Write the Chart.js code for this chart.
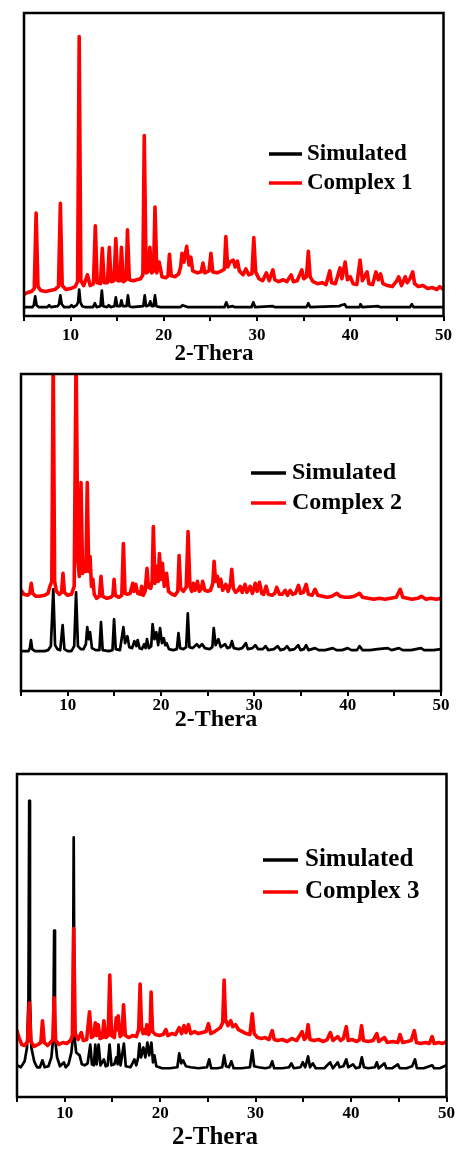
<!DOCTYPE html>
<html>
<head>
<meta charset="utf-8">
<script src="https://cdn.jsdelivr.net/npm/chart.js@4.4.1/dist/chart.umd.min.js"></script>
<style>
  html, body { margin: 0; padding: 0; background: #fff; }
  .panel { position: absolute; left: 0; }
</style>
</head>
<body>
<canvas id="xrd1" class="panel" width="458" height="370" style="top:0"></canvas>
<canvas id="xrd2" class="panel" width="458" height="376" style="top:360px"></canvas>
<canvas id="xrd3" class="panel" width="458" height="389" style="top:760px"></canvas>
<script>
// labelled ticks on the 2-theta axis (minor ticks every 5 in between)
const tickLabels = [10, 20, 30, 40, 50];
const seriesNames = ['Simulated', 'Complex 1', 'Complex 2', 'Complex 3'];

// patterns: [2theta, intensity (a.u., offset stacked)]
const sim1 = [[5.0,9],[5.9,9],[6.05,11],[6.2,20],[6.35,11],[6.6,9],[7.5,9],[7.7,11],[7.9,9],[8.6,10],[8.75,12],[8.9,21],[9.05,12],[9.3,9],[9.9,9],[10.1,11],[10.3,9],[10.65,11],[10.8,14],[10.92,27],[11.05,14],[11.25,10],[11.6,9],[12.4,9],[12.6,13],[12.8,9],[13.2,10],[13.35,26],[13.5,10],[13.9,9],[14.1,11],[14.3,9],[14.7,10],[14.85,19],[15.0,10],[15.3,10],[15.45,16],[15.6,10],[16.0,10],[16.15,21],[16.3,10],[16.6,9],[17.8,10],[17.95,21],[18.1,10],[18.4,11],[18.55,15],[18.7,10],[18.9,10],[19.05,21],[19.2,10],[19.6,9],[21.8,9],[22.0,11],[22.3,10],[22.6,9],[26.5,9],[26.7,14],[26.9,9],[27.4,10],[27.6,9],[29.4,9],[29.6,14],[29.8,9],[31.7,10],[31.9,9],[35.3,9],[35.5,13],[35.7,9],[38.8,10],[39.0,11],[39.4,12],[39.6,9],[41.0,9],[41.1,12],[41.3,9],[43.0,10],[43.2,9],[46.4,9],[46.6,12],[46.8,9],[50.0,9]];

const complex1 = [[5.0,22],[5.4,24],[5.8,25],[6.1,28],[6.3,105],[6.5,30],[6.8,26],[7.3,25],[7.8,26],[8.3,27],[8.7,30],[8.9,115],[9.1,31],[9.5,27],[10.0,28],[10.5,30],[10.75,35],[10.92,285],[11.1,36],[11.4,31],[11.8,42],[12.1,31],[12.45,33],[12.65,92],[12.85,34],[13.2,33],[13.4,69],[13.6,34],[13.95,34],[14.15,70],[14.35,35],[14.65,36],[14.85,79],[15.05,36],[15.3,36],[15.45,70],[15.65,35],[15.95,37],[16.1,88],[16.3,37],[16.7,36],[17.1,37],[17.5,38],[17.75,42],[17.9,184],[18.1,44],[18.3,45],[18.5,70],[18.7,44],[18.9,46],[19.05,111],[19.25,44],[19.5,55],[19.8,40],[20.2,39],[20.45,41],[20.6,63],[20.8,41],[21.2,40],[21.6,43],[21.8,50],[21.95,64],[22.15,55],[22.45,71],[22.7,52],[22.9,60],[23.1,46],[23.6,44],[24.0,45],[24.2,54],[24.4,44],[24.85,46],[25.05,64],[25.25,45],[25.7,44],[26.2,46],[26.5,48],[26.65,81],[26.85,50],[27.1,55],[27.45,57],[27.65,50],[27.9,56],[28.1,46],[28.5,42],[28.8,48],[29.1,42],[29.45,43],[29.65,80],[29.85,45],[30.2,38],[30.6,36],[31.0,44],[31.3,36],[31.7,47],[31.9,37],[32.3,35],[32.8,37],[33.2,35],[33.65,42],[33.9,35],[34.3,36],[34.8,47],[35.0,38],[35.3,40],[35.5,66],[35.7,40],[36.0,35],[36.5,33],[37.0,34],[37.4,32],[37.8,46],[38.0,34],[38.4,33],[38.9,49],[39.1,38],[39.45,55],[39.7,37],[40.0,40],[40.3,33],[40.7,32],[41.05,57],[41.3,36],[41.8,45],[42.0,33],[42.4,32],[42.75,45],[43.0,37],[43.25,43],[43.5,33],[44.0,31],[44.5,30],[45.0,36],[45.2,40],[45.5,31],[45.9,40],[46.1,34],[46.4,38],[46.7,45],[46.9,33],[47.3,30],[47.8,31],[48.3,28],[48.8,29],[49.3,27],[49.6,30],[50.0,27]];

const sim2 = [[5.0,40],[5.8,40],[5.95,43],[6.07,51],[6.2,42],[6.5,40],[7.5,40],[7.9,41],[8.2,45],[8.46,102],[8.65,46],[8.9,42],[9.2,41],[9.46,66],[9.65,42],[10.0,40],[10.4,40],[10.7,45],[10.9,99],[11.1,45],[11.4,42],[11.7,42],[11.95,47],[12.1,64],[12.25,52],[12.4,59],[12.6,43],[13.0,41],[13.4,41],[13.57,69],[13.75,41],[14.4,40],[14.8,41],[14.97,72],[15.15,42],[15.6,41],[15.97,64],[16.15,48],[16.4,55],[16.6,44],[16.9,43],[17.15,50],[17.35,45],[17.5,51],[17.7,43],[17.95,42],[18.2,47],[18.35,43],[18.5,52],[18.7,43],[18.95,45],[19.1,67],[19.3,52],[19.5,59],[19.7,46],[19.9,63],[20.1,48],[20.3,53],[20.45,46],[20.6,48],[20.85,42],[21.3,41],[21.7,42],[21.87,58],[22.05,43],[22.4,42],[22.7,44],[22.87,78],[23.05,44],[23.4,43],[23.83,47],[24.1,44],[24.4,47],[24.7,43],[25.2,42],[25.5,44],[25.65,63],[25.85,46],[26.15,52],[26.4,44],[26.87,47],[27.1,43],[27.4,44],[27.6,50],[27.8,43],[28.3,42],[28.7,43],[29.1,48],[29.3,42],[29.8,43],[30.1,46],[30.4,42],[30.9,42],[31.2,45],[31.5,41],[32.1,42],[32.5,45],[32.8,41],[33.2,42],[33.5,45],[33.8,41],[34.3,42],[34.7,46],[34.95,41],[35.3,42],[35.55,46],[35.8,41],[36.5,43],[36.9,41],[37.6,41],[38.4,43],[38.8,41],[39.4,41],[40.0,43],[40.4,41],[41.0,41],[41.27,45],[41.6,41],[42.4,41],[43.2,42],[44.3,43],[44.7,41],[45.5,43],[45.9,41],[46.8,41],[47.85,43],[48.2,41],[49.2,41],[50.0,42]];

const complex2 = [[5.0,101],[5.3,97],[5.7,96],[5.95,98],[6.1,108],[6.25,98],[6.6,95],[7.0,95],[7.5,96],[7.9,98],[8.1,105],[8.3,110],[8.45,340],[8.6,110],[8.8,100],[9.1,97],[9.35,99],[9.5,118],[9.65,99],[10.0,96],[10.4,97],[10.7,105],[10.9,340],[11.1,130],[11.25,115],[11.43,209],[11.6,118],[11.8,130],[11.95,120],[12.1,209],[12.25,120],[12.4,135],[12.55,105],[12.7,112],[12.85,97],[13.1,93],[13.4,95],[13.57,115],[13.75,95],[14.2,93],[14.6,94],[14.85,96],[14.97,112],[15.1,96],[15.5,94],[15.8,96],[15.97,148],[16.15,98],[16.4,97],[16.7,98],[16.97,108],[17.1,100],[17.3,107],[17.5,98],[17.8,97],[17.93,105],[18.1,96],[18.3,100],[18.5,123],[18.65,104],[18.9,103],[19.05,110],[19.18,165],[19.35,108],[19.54,125],[19.7,110],[19.83,138],[20.0,112],[20.15,128],[20.35,105],[20.6,118],[20.8,100],[21.2,97],[21.5,96],[21.8,100],[21.94,136],[22.1,103],[22.4,100],[22.7,104],[22.9,160],[23.1,105],[23.3,100],[23.47,108],[23.65,101],[23.9,110],[24.1,100],[24.3,102],[24.47,110],[24.7,101],[25.0,100],[25.3,101],[25.55,108],[25.69,130],[25.85,110],[26.05,115],[26.2,105],[26.4,112],[26.6,101],[26.94,107],[27.2,100],[27.45,108],[27.58,122],[27.75,103],[28.0,99],[28.25,101],[28.48,105],[28.7,99],[29.0,107],[29.2,99],[29.55,105],[29.8,98],[30.1,108],[30.3,100],[30.55,109],[30.8,98],[31.0,97],[31.26,105],[31.5,97],[31.9,96],[32.2,98],[32.4,104],[32.7,97],[33.0,97],[33.3,101],[33.55,96],[33.84,101],[34.1,97],[34.4,98],[34.73,106],[34.95,98],[35.25,99],[35.55,107],[35.8,97],[36.2,96],[36.5,102],[36.8,96],[37.3,95],[37.8,94],[38.3,95],[38.84,98],[39.2,95],[39.7,94],[40.2,94],[40.7,95],[41.27,98],[41.6,94],[42.2,93],[42.8,92],[43.4,93],[44.0,92],[44.6,93],[45.2,94],[45.63,102],[45.9,94],[46.4,93],[46.9,92],[47.5,93],[47.9,95],[48.4,92],[48.9,93],[49.5,92],[50.0,93]];

const sim3 = [[5.0,32],[5.4,30],[5.8,36],[6.05,50],[6.2,100],[6.28,299],[6.36,100],[6.5,50],[6.8,36],[7.1,30],[7.4,30],[7.67,37],[7.9,30],[8.3,31],[8.6,40],[8.8,60],[8.89,168],[8.98,60],[9.2,40],[9.5,31],[9.9,35],[10.1,30],[10.4,33],[10.7,45],[10.85,60],[10.94,262],[11.03,60],[11.2,45],[11.56,42],[11.8,33],[12.1,32],[12.4,34],[12.68,53],[12.85,33],[13.05,32],[13.2,53],[13.35,33],[13.55,53],[13.75,32],[14.1,38],[14.3,31],[14.5,32],[14.7,53],[14.9,32],[15.2,33],[15.4,40],[15.55,33],[15.63,53],[15.85,32],[16.2,54],[16.4,31],[16.9,30],[17.3,38],[17.5,32],[17.7,40],[17.83,54],[18.0,40],[18.24,50],[18.45,40],[18.66,55],[18.85,42],[19.08,55],[19.25,35],[19.4,42],[19.6,31],[20.2,29],[21.0,29],[21.8,30],[22.0,44],[22.2,34],[22.4,37],[22.7,31],[23.2,30],[24.0,29],[24.9,30],[25.13,38],[25.35,29],[26.0,29],[26.5,30],[26.7,42],[26.9,31],[27.2,30],[27.46,36],[27.7,29],[28.5,29],[29.4,30],[29.65,47],[29.85,31],[30.3,30],[31.0,29],[31.5,30],[31.74,36],[31.95,29],[32.8,29],[33.5,30],[33.75,34],[34.0,29],[34.7,30],[34.94,35],[35.2,30],[35.5,41],[35.7,30],[36.0,34],[36.3,29],[37.2,29],[37.8,35],[38.1,29],[38.6,35],[38.8,30],[39.2,31],[39.5,38],[39.7,30],[40.2,33],[40.5,29],[40.9,30],[41.13,40],[41.35,30],[41.8,29],[42.5,30],[42.7,35],[42.9,29],[43.5,34],[43.7,29],[44.3,29],[44.9,33],[45.1,29],[45.8,29],[46.4,31],[46.7,38],[46.9,29],[47.6,29],[48.5,32],[48.7,29],[49.3,29],[50.0,32]];

const complex3 = [[5.0,67],[5.2,60],[5.5,53],[5.8,52],[6.1,56],[6.28,95],[6.45,56],[6.8,51],[7.2,53],[7.5,55],[7.67,77],[7.85,55],[8.2,52],[8.5,55],[8.75,58],[8.89,100],[9.05,57],[9.4,53],[9.8,55],[10.2,54],[10.6,57],[10.8,62],[10.94,170],[11.1,64],[11.4,58],[11.74,65],[11.95,57],[12.3,58],[12.6,86],[12.8,60],[13.05,62],[13.2,75],[13.35,62],[13.51,73],[13.7,59],[13.95,60],[14.1,77],[14.3,60],[14.55,62],[14.72,123],[14.9,62],[15.2,60],[15.4,80],[15.5,68],[15.6,82],[15.8,61],[16.0,63],[16.16,93],[16.35,62],[16.7,60],[17.1,62],[17.5,61],[17.75,68],[17.9,114],[18.05,70],[18.2,64],[18.35,68],[18.5,64],[18.6,73],[18.8,63],[18.95,68],[19.05,106],[19.2,66],[19.5,63],[19.9,62],[20.3,63],[20.6,68],[20.8,62],[21.2,64],[21.6,63],[22.0,70],[22.25,64],[22.5,72],[22.7,65],[22.97,73],[23.2,64],[23.6,66],[24.0,64],[24.4,65],[24.8,66],[25.06,74],[25.3,64],[25.7,66],[26.0,68],[26.3,70],[26.55,75],[26.7,118],[26.85,78],[27.1,72],[27.4,77],[27.6,71],[27.9,73],[28.2,68],[28.6,66],[29.0,64],[29.4,63],[29.65,84],[29.85,64],[30.2,60],[30.6,59],[31.0,60],[31.4,58],[31.74,67],[31.95,58],[32.3,57],[32.8,58],[33.3,56],[33.8,59],[34.3,57],[34.87,66],[35.1,58],[35.3,60],[35.5,73],[35.7,58],[36.1,57],[36.6,58],[37.1,56],[37.5,58],[37.83,65],[38.1,57],[38.6,61],[38.9,57],[39.2,59],[39.5,71],[39.7,57],[40.1,58],[40.6,56],[40.9,58],[41.1,72],[41.3,57],[41.8,56],[42.3,57],[42.7,64],[42.9,56],[43.5,60],[43.8,55],[44.4,56],[44.9,55],[45.13,63],[45.4,55],[45.9,56],[46.3,57],[46.63,67],[46.85,55],[47.3,54],[47.8,55],[48.2,54],[48.5,61],[48.7,54],[49.2,55],[49.6,54],[50.0,56]];

const SERIF = "'Liberation Serif', 'Times New Roman', serif";

// frame, in-plot legend and the (off-centre) axis title
const panelDecor = {
    id: 'panelDecor',
    afterDraw(chart, args, opts) {
        const { ctx, chartArea: a } = chart;
        ctx.save();
        ctx.strokeStyle = '#000';
        ctx.lineWidth = 2.5;
        ctx.strokeRect(a.left, a.top, a.right - a.left, a.bottom - a.top);

        const lg = opts.legend;
        ctx.font = `bold ${lg.size}px ${SERIF}`;
        ctx.textBaseline = 'middle';
        ctx.textAlign = 'left';
        chart.data.datasets.forEach((ds, i) => {
            const y = lg.y[i];
            ctx.strokeStyle = ds.borderColor;
            ctx.lineWidth = 3.5;
            ctx.beginPath();
            ctx.moveTo(lg.x0, y);
            ctx.lineTo(lg.x1, y);
            ctx.stroke();
            ctx.fillStyle = '#000';
            ctx.fillText(ds.label, lg.tx, y);
        });

        const t = opts.title;
        ctx.font = `bold ${t.size}px ${SERIF}`;
        ctx.textAlign = 'center';
        ctx.fillStyle = '#000';
        ctx.fillText(t.text, t.x, t.y);
        ctx.restore();
    }
};

const panels = [
    { id: 'xrd1', sim: sim1, exp: complex1, name: seriesNames[1], yMax: 309,
      pad: { left: 24, right: 14, top: 13, bottom: 20 }, tickPad: 6,
      legend: { x0: 269, x1: 302, tx: 307, y: [154, 183], size: 23 },
      title: { text: '2-Thera', x: 214, y: 354, size: 23 } },
    { id: 'xrd2', sim: sim2, exp: complex2, name: seriesNames[2], yMax: 318,
      pad: { left: 21, right: 17, top: 14, bottom: 21 }, tickPad: 1,
      legend: { x0: 251, x1: 286, tx: 292, y: [113, 143], size: 24 },
      title: { text: '2-Thera', x: 216, y: 360, size: 24 } },
    { id: 'xrd3', sim: sim3, exp: complex3, name: seriesNames[3], yMax: 326,
      pad: { left: 17, right: 10, top: 14, bottom: 24 }, tickPad: 3,
      legend: { x0: 263, x1: 298, tx: 305, y: [100, 132], size: 25 },
      title: { text: '2-Thera', x: 215, y: 378, size: 25 } }
];

function buildPanel(p) {
    const ctx = document.getElementById(p.id).getContext('2d');
    return new Chart(ctx, {
        type: 'line',
        data: {
            datasets: [{
                label: seriesNames[0],
                data: p.sim,
                borderColor: '#000000',
                borderWidth: 2.7,
                order: 1
            }, {
                label: p.name,
                data: p.exp,
                borderColor: '#ff0000',
                borderWidth: 3.6,
                order: 0
            }]
        },
        options: {
            responsive: false,
            animation: false,
            events: [],
            layout: { padding: p.pad },
            elements: {
                point: { radius: 0 },
                line: { tension: 0, borderJoinStyle: 'round', borderCapStyle: 'round' }
            },
            plugins: {
                legend: { display: false },
                tooltip: { enabled: false },
                panelDecor: { legend: p.legend, title: p.title }
            },
            scales: {
                x: {
                    type: 'linear',
                    min: 5,
                    max: 50,
                    border: { display: false },
                    grid: {
                        drawOnChartArea: false,
                        drawTicks: true,
                        tickLength: 5,
                        color: '#000',
                        lineWidth: 2
                    },
                    ticks: {
                        stepSize: 5,
                        autoSkip: false,
                        maxRotation: 0,
                        padding: p.tickPad,
                        color: '#000',
                        font: { family: SERIF, size: 17, weight: 'bold', lineHeight: 1 },
                        callback: (value) => tickLabels.includes(value) ? String(value) : ''
                    }
                },
                y: {
                    type: 'linear',
                    display: false,
                    min: 0,
                    max: p.yMax
                }
            }
        },
        plugins: [panelDecor]
    });
}

panels.forEach(buildPanel);
</script>
</body>
</html>
